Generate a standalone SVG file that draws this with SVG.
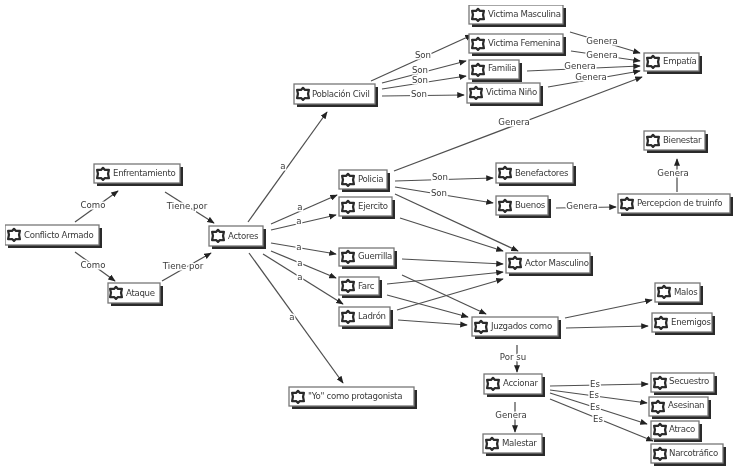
<svg xmlns="http://www.w3.org/2000/svg" width="737" height="473" viewBox="0 0 737 473">
<style>
text{font-family:"DejaVu Sans","Liberation Sans",sans-serif;font-size:8.6px;fill:#3a3a3a}
g[id^="n"]>text{letter-spacing:-.3px}
.s{fill:#2a2a2a}
.b{fill:#fff;stroke:#777;stroke-width:1.3}
.c line{stroke:#4f4f4f;stroke-width:1.25;marker-end:url(#a)}
.l text{text-anchor:middle;paint-order:stroke;stroke:#fff;stroke-width:3px}
</style>
<defs>
<marker id="a" viewBox="0 0 10 8" refX="9" refY="4" markerWidth="7.5" markerHeight="6.4" markerUnits="userSpaceOnUse" orient="auto"><path d="M0 0L10 4L0 8z" fill="#222"/></marker>
<filter id="f" x="0" y="0" width="100%" height="100%"><feGaussianBlur stdDeviation="0.4"/></filter>
<g id="i"><path transform="scale(1.18)" d="M0-5.2L1.7-3.4L5-3.6L4.3-.2L5 3.6L1.6 3.4L0 5L-1.6 3.4L-5 3.6L-4.3-.2L-5-3.6L-1.7-3.4z" fill="#fff" stroke="#2a2a2a" stroke-width="1.9" stroke-linejoin="round"/></g>
</defs>
<rect width="737" height="473" fill="#fff"/>
<g filter="url(#f)">
<g id="connectors" class="c">
<line x1="75" y1="222" x2="118" y2="191"/>
<line x1="75" y1="252" x2="115" y2="281"/>
<line x1="165" y1="192" x2="214" y2="223"/>
<line x1="162" y1="281" x2="211" y2="253"/>
<line x1="248" y1="222" x2="327" y2="112"/>
<line x1="271" y1="224" x2="337" y2="195"/>
<line x1="271" y1="230" x2="336" y2="215"/>
<line x1="271" y1="243" x2="336" y2="254"/>
<line x1="271" y1="251" x2="336" y2="278"/>
<line x1="263" y1="254" x2="343" y2="304"/>
<line x1="249" y1="253" x2="343" y2="383"/>
<line x1="371" y1="81" x2="472" y2="35"/>
<line x1="382" y1="83" x2="466" y2="61"/>
<line x1="382" y1="89" x2="466" y2="76"/>
<line x1="382" y1="96" x2="464" y2="95"/>
<line x1="570" y1="32" x2="640" y2="53"/>
<line x1="571" y1="51" x2="640" y2="61"/>
<line x1="527" y1="71" x2="640" y2="66"/>
<line x1="548" y1="87" x2="640" y2="71"/>
<line x1="394" y1="171" x2="642" y2="77"/>
<line x1="556" y1="208" x2="616" y2="207"/>
<line x1="677" y1="192" x2="677" y2="159"/>
<line x1="395" y1="181" x2="493" y2="178"/>
<line x1="395" y1="187" x2="493" y2="203"/>
<line x1="395" y1="194" x2="518" y2="251"/>
<line x1="400" y1="218" x2="503" y2="251"/>
<line x1="402" y1="259" x2="503" y2="264"/>
<line x1="387" y1="284" x2="503" y2="272"/>
<line x1="397" y1="310" x2="503" y2="279"/>
<line x1="402" y1="275" x2="486" y2="314"/>
<line x1="387" y1="295" x2="468" y2="317"/>
<line x1="398" y1="320" x2="467" y2="325"/>
<line x1="565" y1="318" x2="652" y2="300"/>
<line x1="566" y1="328" x2="648" y2="326"/>
<line x1="517" y1="345" x2="517" y2="372"/>
<line x1="515" y1="402" x2="515" y2="432"/>
<line x1="550" y1="386" x2="648" y2="384"/>
<line x1="550" y1="390" x2="647" y2="403"/>
<line x1="550" y1="393" x2="647" y2="424"/>
<line x1="550" y1="399" x2="653" y2="441"/>
</g>
<g id="labels" class="l">
<text x="93" y="208">Como</text>
<text x="93" y="268">Como</text>
<text x="187" y="209">Tiene por</text>
<text x="183" y="269">Tiene por</text>
<text x="283" y="169">a</text>
<text x="300" y="210">a</text>
<text x="299" y="224">a</text>
<text x="299" y="250">a</text>
<text x="300" y="266">a</text>
<text x="300" y="280">a</text>
<text x="292" y="320">a</text>
<text x="423" y="58">Son</text>
<text x="420" y="73">Son</text>
<text x="420" y="83">Son</text>
<text x="419" y="97">Son</text>
<text x="602" y="44">Genera</text>
<text x="602" y="58">Genera</text>
<text x="580" y="69">Genera</text>
<text x="591" y="80">Genera</text>
<text x="514" y="125">Genera</text>
<text x="582" y="209">Genera</text>
<text x="673" y="176">Genera</text>
<text x="440" y="180">Son</text>
<text x="439" y="196">Son</text>
<text x="513" y="360">Por su</text>
<text x="511" y="418">Genera</text>
<text x="595" y="387">Es</text>
<text x="594" y="398">Es</text>
<text x="595" y="410">Es</text>
<text x="598" y="422">Es</text>
</g>
<g id="n1"><rect class="s" x="8" y="228" width="94" height="20"/><rect class="b" x="5" y="225" width="94" height="20"/><use href="#i" x="14" y="235"/><text x="24" y="238">Conflicto Armado</text></g>
<g id="n2"><rect class="s" x="97" y="167" width="86" height="19"/><rect class="b" x="94" y="164" width="86" height="19"/><use href="#i" x="103" y="174"/><text x="113" y="176">Enfrentamiento</text></g>
<g id="n3"><rect class="s" x="111" y="286" width="52" height="20"/><rect class="b" x="108" y="283" width="52" height="20"/><use href="#i" x="116" y="293"/><text x="126" y="296">Ataque</text></g>
<g id="n4"><rect class="s" x="212" y="229" width="54" height="20"/><rect class="b" x="209" y="226" width="54" height="20"/><use href="#i" x="218" y="236"/><text x="228" y="239">Actores</text></g>
<g id="n5"><rect class="s" x="297" y="87" width="81" height="20"/><rect class="b" x="294" y="84" width="81" height="20"/><use href="#i" x="303" y="94"/><text x="312" y="97">Población Civil</text></g>
<g id="n6"><rect class="s" x="472" y="8" width="94" height="19"/><rect class="b" x="469" y="5" width="94" height="19"/><use href="#i" x="478" y="15"/><text x="488" y="17">Victima Masculina</text></g>
<g id="n7"><rect class="s" x="472" y="37" width="94" height="19"/><rect class="b" x="469" y="34" width="94" height="19"/><use href="#i" x="478" y="44"/><text x="488" y="46">Victima Femenina</text></g>
<g id="n8"><rect class="s" x="472" y="63" width="50" height="19"/><rect class="b" x="469" y="60" width="50" height="19"/><use href="#i" x="478" y="70"/><text x="488" y="71">Familia</text></g>
<g id="n9"><rect class="s" x="470" y="86" width="73" height="20"/><rect class="b" x="467" y="83" width="73" height="20"/><use href="#i" x="476" y="93"/><text x="486" y="95">Victima Niño</text></g>
<g id="n10"><rect class="s" x="647" y="56" width="55" height="18"/><rect class="b" x="644" y="53" width="55" height="18"/><use href="#i" x="653" y="62"/><text x="663" y="64">Empatía</text></g>
<g id="n11"><rect class="s" x="647" y="134" width="61" height="19"/><rect class="b" x="644" y="131" width="61" height="19"/><use href="#i" x="653" y="141"/><text x="663" y="143">Bienestar</text></g>
<g id="n12"><rect class="s" x="499" y="166" width="77" height="20"/><rect class="b" x="496" y="163" width="77" height="20"/><use href="#i" x="505" y="173"/><text x="515" y="176">Benefactores</text></g>
<g id="n13"><rect class="s" x="499" y="199" width="52" height="19"/><rect class="b" x="496" y="196" width="52" height="19"/><use href="#i" x="505" y="206"/><text x="515" y="208">Buenos</text></g>
<g id="n14"><rect class="s" x="621" y="197" width="112" height="19"/><rect class="b" x="618" y="194" width="112" height="19"/><use href="#i" x="627" y="204"/><text x="637" y="206">Percepcion de truinfo</text></g>
<g id="n15"><rect class="s" x="342" y="173" width="48" height="19"/><rect class="b" x="339" y="170" width="48" height="19"/><use href="#i" x="348" y="180"/><text x="358" y="182">Policia</text></g>
<g id="n16"><rect class="s" x="342" y="200" width="53" height="19"/><rect class="b" x="339" y="197" width="53" height="19"/><use href="#i" x="348" y="207"/><text x="358" y="209">Ejercito</text></g>
<g id="n17"><rect class="s" x="342" y="251" width="55" height="18"/><rect class="b" x="339" y="248" width="55" height="18"/><use href="#i" x="348" y="257"/><text x="358" y="259">Guerrilla</text></g>
<g id="n18"><rect class="s" x="342" y="280" width="40" height="18"/><rect class="b" x="339" y="277" width="40" height="18"/><use href="#i" x="348" y="286"/><text x="358" y="289">Farc</text></g>
<g id="n19"><rect class="s" x="342" y="310" width="51" height="19"/><rect class="b" x="339" y="307" width="51" height="19"/><use href="#i" x="348" y="317"/><text x="358" y="319">Ladrón</text></g>
<g id="n20"><rect class="s" x="509" y="256" width="84" height="20"/><rect class="b" x="506" y="253" width="84" height="20"/><use href="#i" x="515" y="263"/><text x="525" y="266">Actor Masculino</text></g>
<g id="n21"><rect class="s" x="475" y="320" width="86" height="19"/><rect class="b" x="472" y="317" width="86" height="19"/><use href="#i" x="481" y="327"/><text x="491" y="329">Juzgados como</text></g>
<g id="n22"><rect class="s" x="658" y="286" width="45" height="19"/><rect class="b" x="655" y="283" width="45" height="19"/><use href="#i" x="664" y="292"/><text x="674" y="295">Malos</text></g>
<g id="n23"><rect class="s" x="655" y="316" width="60" height="19"/><rect class="b" x="652" y="313" width="60" height="19"/><use href="#i" x="661" y="323"/><text x="671" y="325">Enemigos</text></g>
<g id="n24"><rect class="s" x="487" y="377" width="58" height="20"/><rect class="b" x="484" y="374" width="58" height="20"/><use href="#i" x="493" y="384"/><text x="503" y="386">Accionar</text></g>
<g id="n25"><rect class="s" x="486" y="437" width="59" height="19"/><rect class="b" x="483" y="434" width="59" height="19"/><use href="#i" x="492" y="444"/><text x="502" y="446">Malestar</text></g>
<g id="n26"><rect class="s" x="654" y="376" width="63" height="19"/><rect class="b" x="651" y="373" width="63" height="19"/><use href="#i" x="660" y="383"/><text x="669" y="384">Secuestro</text></g>
<g id="n27"><rect class="s" x="652" y="400" width="59" height="19"/><rect class="b" x="649" y="397" width="59" height="19"/><use href="#i" x="658" y="407"/><text x="668" y="408">Asesinan</text></g>
<g id="n28"><rect class="s" x="654" y="424" width="48" height="18"/><rect class="b" x="651" y="421" width="48" height="18"/><use href="#i" x="660" y="430"/><text x="669" y="432">Atraco</text></g>
<g id="n29"><rect class="s" x="654" y="447" width="72" height="19"/><rect class="b" x="651" y="444" width="72" height="19"/><use href="#i" x="660" y="454"/><text x="669" y="456">Narcotráfico</text></g>
<g id="n30"><rect class="s" x="292" y="390" width="125" height="19"/><rect class="b" x="289" y="387" width="125" height="19"/><use href="#i" x="298" y="397"/><text x="308" y="399">"Yo" como protagonista</text></g>
</g>
</svg>
